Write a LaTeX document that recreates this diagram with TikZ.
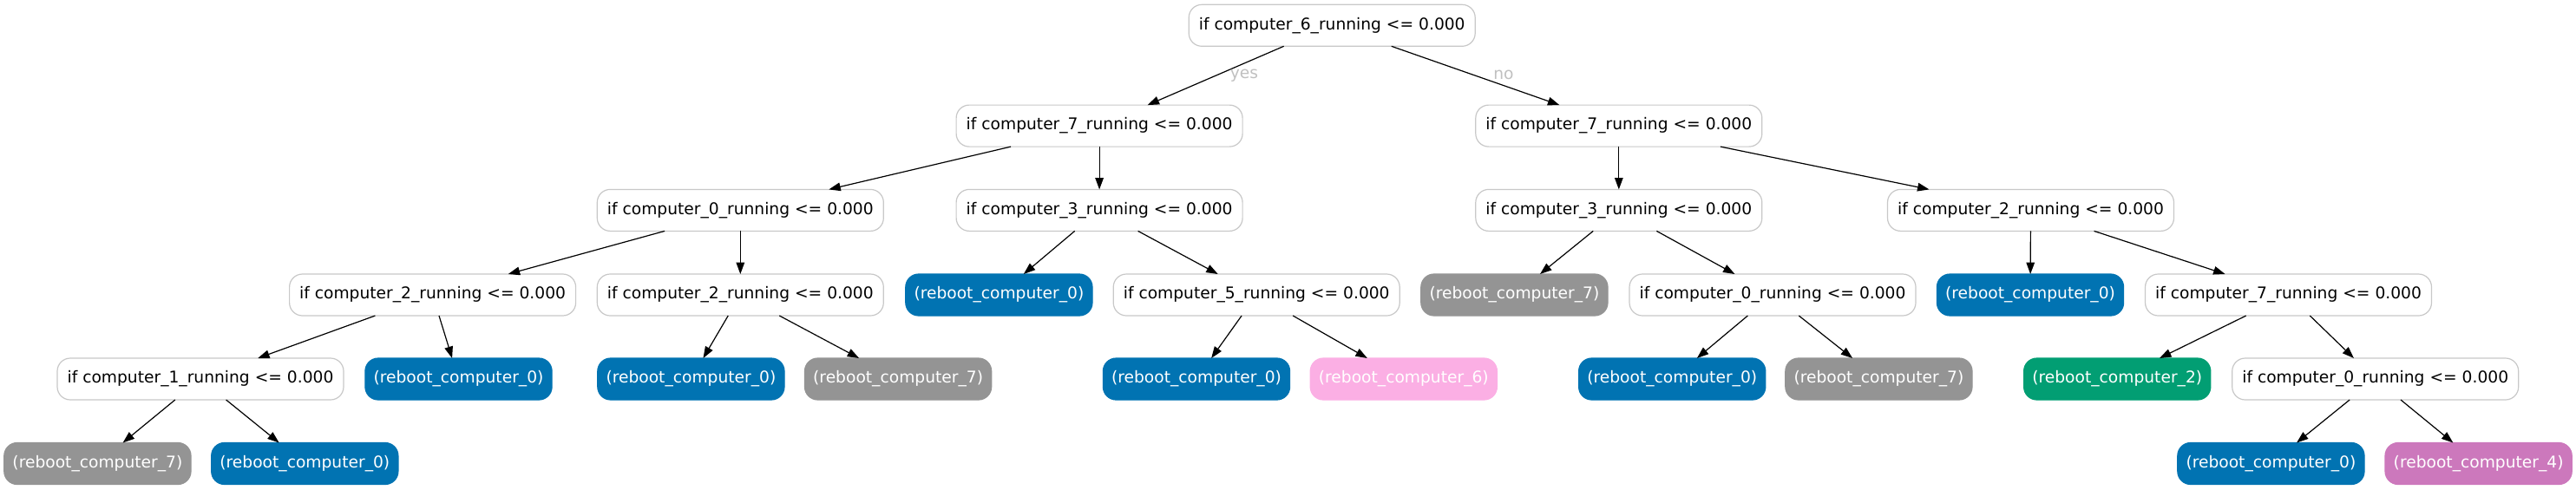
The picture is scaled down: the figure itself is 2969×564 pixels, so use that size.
\documentclass[tikz,border=0pt]{standalone}
\usepackage{fontspec}
\setmainfont{DejaVu Sans}
\usetikzlibrary{arrows.meta}
\definecolor{cblue}{HTML}{0173B2}
\definecolor{cgray}{HTML}{949494}
\definecolor{cpink}{HTML}{FBAFE4}
\definecolor{cgreen}{HTML}{029E73}
\definecolor{cviolet}{HTML}{CC78BC}
\definecolor{cborder}{HTML}{C8C8C8}
\definecolor{clabel}{HTML}{C0C0C0}
\begin{document}
\begin{tikzpicture}[x=0.5pt,y=-0.5pt,
  every node/.style={font=\fontsize{9.33}{11}\selectfont, outer sep=0pt, inner sep=0pt},
  decision/.style={draw=cborder, line width=0.6pt, fill=white, rounded corners=7.5pt,
    minimum width=165pt, minimum height=24pt, text=black},
  leaf/.style={draw=#1, line width=0.6pt, fill=#1, rounded corners=7.5pt,
    minimum width=107.6pt, minimum height=24pt, text=white},
  edgelbl/.style={text=clabel},
  conn/.style={draw=black, line width=0.6pt, -{Triangle[length=6.7pt,width=4.8pt]}}
]
\useasboundingbox (0,0) rectangle (2969,564);
% row 1
\node[decision] (r) at (1535.2,29.3) {if computer\_6\_running <= 0.000};
% row 2
\node[decision] (a) at (1267.1,145.1) {if computer\_7\_running <= 0.000};
\node[decision] (b) at (1865.8,145.1) {if computer\_7\_running <= 0.000};
% row 3
\node[decision] (c) at (853.3,242.4) {if computer\_0\_running <= 0.000};
\node[decision] (d) at (1267.1,242.4) {if computer\_3\_running <= 0.000};
\node[decision] (e) at (1865.8,242.4) {if computer\_3\_running <= 0.000};
\node[decision] (f) at (2340.5,242.4) {if computer\_2\_running <= 0.000};
% row 4
\node[decision] (g) at (498.6,340) {if computer\_2\_running <= 0.000};
\node[decision] (h) at (853.3,340) {if computer\_2\_running <= 0.000};
\node[leaf=cblue] (i) at (1151.4,340) {(reboot\_computer\_0)};
\node[decision] (j) at (1448.2,340) {if computer\_5\_running <= 0.000};
\node[leaf=cgray] (k) at (1745.4,340) {(reboot\_computer\_7)};
\node[decision] (l) at (2043,340) {if computer\_0\_running <= 0.000};
\node[leaf=cblue] (m) at (2340,340) {(reboot\_computer\_0)};
\node[decision] (n) at (2637.5,340) {if computer\_7\_running <= 0.000};
% row 5
\node[decision] (o) at (231,437) {if computer\_1\_running <= 0.000};
\node[leaf=cblue] (p) at (528.5,437) {(reboot\_computer\_0)};
\node[leaf=cblue] (q) at (796.4,437) {(reboot\_computer\_0)};
\node[leaf=cgray] (s) at (1035.1,437) {(reboot\_computer\_7)};
\node[leaf=cblue] (t) at (1379,437) {(reboot\_computer\_0)};
\node[leaf=cpink] (u) at (1617.8,437) {(reboot\_computer\_6)};
\node[leaf=cblue] (v) at (1927.2,437) {(reboot\_computer\_0)};
\node[leaf=cgray] (w) at (2165.4,437) {(reboot\_computer\_7)};
\node[leaf=cgreen] (x) at (2440.2,437) {(reboot\_computer\_2)};
\node[decision] (y) at (2737.7,437) {if computer\_0\_running <= 0.000};
% row 6
\node[leaf=cgray] (z1) at (112.4,534.5) {(reboot\_computer\_7)};
\node[leaf=cblue] (z2) at (351.3,534.5) {(reboot\_computer\_0)};
\node[leaf=cblue] (z3) at (2617.4,534.5) {(reboot\_computer\_0)};
\node[leaf=cviolet] (z4) at (2856.6,534.5) {(reboot\_computer\_4)};
% edges
\draw[conn] (r) -- (a);
\draw[conn] (r) -- (b);
\node[edgelbl] (yes) at (1434,87) {yes};
\node[edgelbl] (no) at (1733,86) {no};
\draw[conn] (a) -- (c);
\draw[conn] (a) -- (d);
\draw[conn] (b) -- (e);
\draw[conn] (b) -- (f);
\draw[conn] (c) -- (g);
\draw[conn] (c) -- (h);
\draw[conn] (d) -- (i);
\draw[conn] (d) -- (j);
\draw[conn] (e) -- (k);
\draw[conn] (e) -- (l);
\draw[conn] (f) -- (m);
\draw[conn] (f) -- (n);
\draw[conn] (g) -- (o);
\draw[conn] (g) -- (p);
\draw[conn] (h) -- (q);
\draw[conn] (h) -- (s);
\draw[conn] (j) -- (t);
\draw[conn] (j) -- (u);
\draw[conn] (l) -- (v);
\draw[conn] (l) -- (w);
\draw[conn] (n) -- (x);
\draw[conn] (n) -- (y);
\draw[conn] (o) -- (z1);
\draw[conn] (o) -- (z2);
\draw[conn] (y) -- (z3);
\draw[conn] (y) -- (z4);
\end{tikzpicture}
\end{document}
